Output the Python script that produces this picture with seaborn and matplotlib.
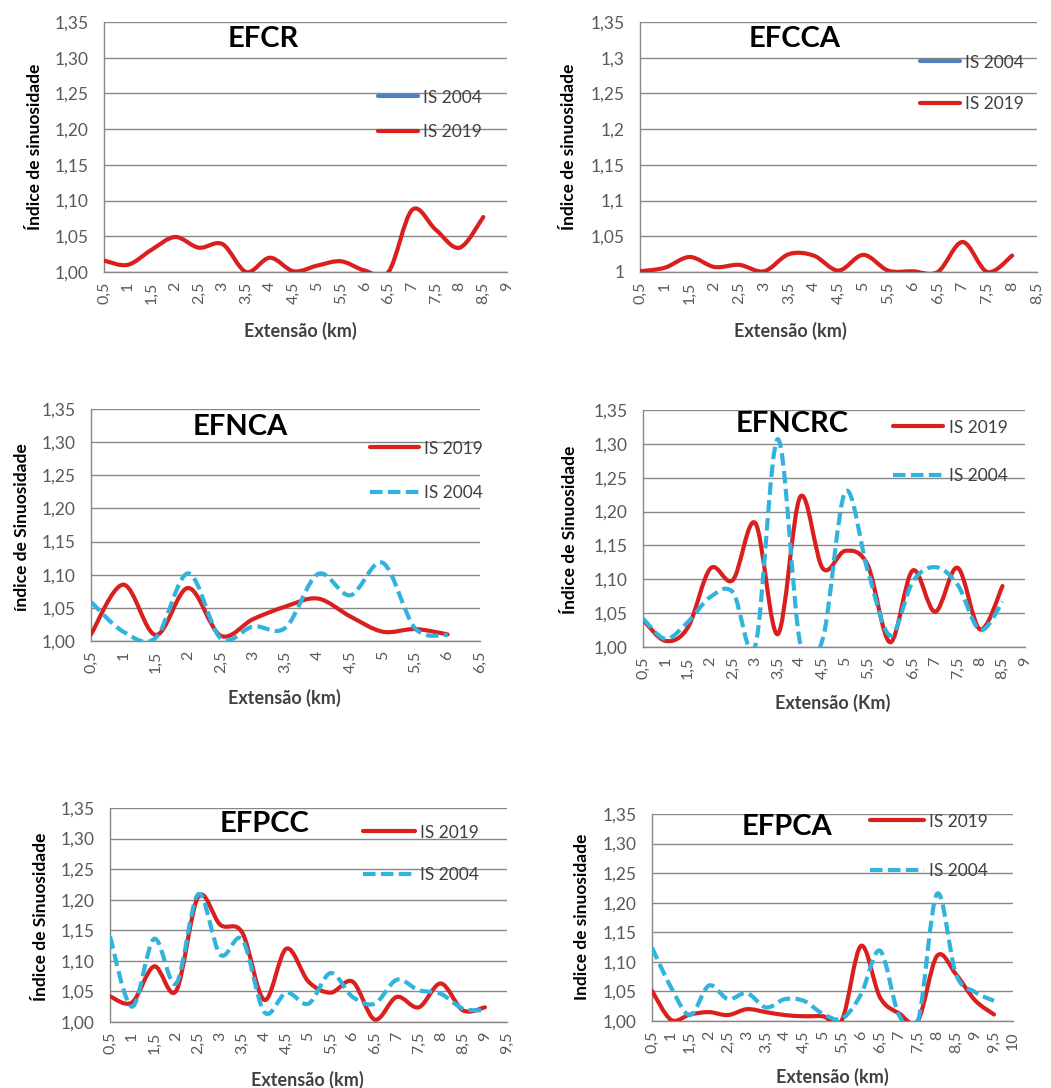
import matplotlib
matplotlib.use('Agg')
import matplotlib.pyplot as plt
from matplotlib.lines import Line2D
from matplotlib.path import Path
from matplotlib.patches import PathPatch
import seaborn as sns
import pandas as pd

# Dados (índice de sinuosidade por km)
km_efcr = [0.5, 1, 1.5, 2, 2.5, 3, 3.5, 4, 4.5, 5, 5.5, 6, 6.5, 7, 7.5, 8, 8.5]
efcr_2019 = [1.016, 1.010, 1.031, 1.049, 1.034, 1.039, 1.000, 1.020, 1.001, 1.009, 1.015, 1.002,
             1.000, 1.087, 1.059, 1.034, 1.077]
xlab_efcr = ['0,5', '1', '1,5', '2', '2,5', '3', '3,5', '4', '4,5', '5', '5,5', '6', '6,5', '7',
             '7,5', '8', '8,5', '9']

km_efcca = [0.5, 1, 1.5, 2, 2.5, 3, 3.5, 4, 4.5, 5, 5.5, 6, 6.5, 7, 7.5, 8]
efcca_2019 = [1.001, 1.006, 1.021, 1.007, 1.010, 1.001, 1.025, 1.023, 1.002, 1.024, 1.002, 1.001,
              1.000, 1.042, 1.000, 1.023]
xlab_efcca = ['0,5', '1', '1,5', '2', '2,5', '3', '3,5', '4', '4,5', '5', '5,5', '6', '6,5', '7',
              '7,5', '8', '8,5']

km_efnca = [0.5, 1, 1.5, 2, 2.5, 3, 3.5, 4, 4.5, 5, 5.5, 6]
efnca_2019 = [1.010, 1.085, 1.009, 1.080, 1.008, 1.033, 1.052, 1.064, 1.037, 1.014, 1.018, 1.010]
efnca_2004 = [1.059, 1.014, 1.005, 1.102, 1.004, 1.022, 1.020, 1.101, 1.069, 1.118, 1.019, 1.009]
xlab_efnca = ['0,5', '1', '1,5', '2', '2,5', '3', '3,5', '4', '4,5', '5', '5,5', '6', '6,5']

km_efncrc = [0.5, 1, 1.5, 2, 2.5, 3, 3.5, 4, 4.5, 5, 5.5, 6, 6.5, 7, 7.5, 8, 8.5]
efncrc_2019 = [1.040, 1.009, 1.029, 1.116, 1.099, 1.183, 1.019, 1.222, 1.116, 1.142, 1.121, 1.007,
               1.113, 1.052, 1.117, 1.026, 1.090]
efncrc_2004 = [1.042, 1.012, 1.037, 1.074, 1.081, 1.002, 1.307, 1.005, 1.012, 1.229, 1.113, 1.017,
               1.096, 1.118, 1.092, 1.025, 1.067]
xlab_efncrc = xlab_efcr

km_efpcc = [0.5, 1, 1.5, 2, 2.5, 3, 3.5, 4, 4.5, 5, 5.5, 6, 6.5, 7, 7.5, 8, 8.5, 9]
efpcc_2019 = [1.042, 1.032, 1.091, 1.051, 1.205, 1.159, 1.146, 1.036, 1.120, 1.066, 1.048, 1.066,
              1.004, 1.041, 1.024, 1.063, 1.019, 1.024]
efpcc_2004 = [1.140, 1.025, 1.136, 1.063, 1.209, 1.110, 1.135, 1.016, 1.048, 1.030, 1.080, 1.041,
              1.030, 1.069, 1.052, 1.046, 1.022, 1.019]
xlab_efpcc = xlab_efcr + ['9,5']

km_efpca = [0.5, 1, 1.5, 2, 2.5, 3, 3.5, 4, 4.5, 5, 5.5, 6, 6.5, 7, 7.5, 8, 8.5, 9, 9.5]
efpca_2019 = [1.051, 1.002, 1.011, 1.015, 1.010, 1.020, 1.015, 1.010, 1.008, 1.008, 1.002, 1.127,
              1.040, 1.013, 1.001, 1.110, 1.079, 1.035, 1.011]
efpca_2004 = [1.124, 1.057, 1.010, 1.060, 1.037, 1.047, 1.023, 1.037, 1.034, 1.012, 1.004, 1.045,
              1.119, 1.010, 1.000, 1.215, 1.079, 1.049, 1.034]
xlab_efpca = xlab_efpcc + ['10']

yticks = [1.00, 1.05, 1.10, 1.15, 1.20, 1.25, 1.30, 1.35]
ylab_fixo = ['1,00', '1,05', '1,10', '1,15', '1,20', '1,25', '1,30', '1,35']
ylab_geral = ['1', '1,05', '1,1', '1,15', '1,2', '1,25', '1,3', '1,35']

W, H = 1051, 1088
RED = '#DA1F1F'
CYAN = '#31B3DD'
BLUE = '#4F81BD'
GRAY = '#888888'
TXT = '#404040'
LW = 3.0
DASH = (3.0, 1.3)

sns.set_theme(style='white')
plt.rcParams['font.family'] = ['Lato', 'DejaVu Sans']


def fx(x):
    return x / W


def fy(y):
    return 1 - y / H


def suavizar(ax):
    # linha suavizada como no Excel: troca cada linha do seaborn por uma curva de Bezier
    for ln in list(ax.get_lines()):
        xy = ln.get_xydata()
        n = len(xy)
        if n < 2:
            continue
        verts = [xy[0]]
        codes = [Path.MOVETO]
        for i in range(n - 1):
            p0 = xy[max(i - 1, 0)]
            p1 = xy[i]
            p2 = xy[i + 1]
            p3 = xy[min(i + 2, n - 1)]
            verts += [p1 + (p2 - p0) / 6, p2 - (p3 - p1) / 6, p2]
            codes += [Path.CURVE4] * 3
        dashed = matplotlib.colors.same_color(ln.get_color(), CYAN)
        patch = PathPatch(Path(verts, codes), fill=False, edgecolor=ln.get_color(),
                          linewidth=ln.get_linewidth(),
                          linestyle=(0, DASH) if dashed else '-',
                          capstyle='round' if not dashed else 'butt', joinstyle='round',
                          zorder=ln.get_zorder())
        ax.add_patch(patch)
        ln.remove()


# layout em pixels: retângulo do gráfico, título, rótulos e legenda
paineis = [
    dict(titulo='EFCR', km=km_efcr, series={'IS 2019': efcr_2019}, legenda=['IS 2004', 'IS 2019'],
         xlab=xlab_efcr, ylab=ylab_fixo, ytit='Índice de sinuosidade', xtit='Extensão (km)',
         rect=(104, 22, 507, 272), tpos=(263, 39), ypos=(35, 147), xpos=(300, 331),
         leg=(378, 97, 133, 2.3)),
    dict(titulo='EFCCA', km=km_efcca, series={'IS 2019': efcca_2019}, legenda=['IS 2004', 'IS 2019'],
         xlab=xlab_efcca, ylab=ylab_geral, ytit='Índice de sinuosidade', xtit='Extensão (km)',
         rect=(640, 22, 1037, 272), tpos=(795, 39), ypos=(569, 147), xpos=(790, 331),
         leg=(920, 62, 105, 2.3)),
    dict(titulo='EFNCA', km=km_efnca, series={'IS 2019': efnca_2019, 'IS 2004': efnca_2004},
         legenda=['IS 2019', 'IS 2004'],
         xlab=xlab_efnca, ylab=ylab_fixo, ytit='índice de Sinuosidade', xtit='Extensão (km)',
         rect=(91, 409, 480, 641), tpos=(240, 427), ypos=(22, 527), xpos=(284, 698),
         leg=(370, 448, 494, 2.8)),
    dict(titulo='EFNCRC', km=km_efncrc, series={'IS 2019': efncrc_2019, 'IS 2004': efncrc_2004},
         legenda=['IS 2019', 'IS 2004'],
         xlab=xlab_efncrc, ylab=ylab_fixo, ytit='Índice de Sinuosidade', xtit='Extensão (Km)',
         rect=(643, 410, 1025, 647), tpos=(792, 424), ypos=(570, 530), xpos=(833, 703),
         leg=(893, 427, 477, 2.9)),
    dict(titulo='EFPCC', km=km_efpcc, series={'IS 2019': efpcc_2019, 'IS 2004': efpcc_2004},
         legenda=['IS 2019', 'IS 2004'],
         xlab=xlab_efpcc, ylab=ylab_fixo, ytit='Índice de Sinuosidade', xtit='Extensão (km)',
         rect=(110, 808, 507, 1022), tpos=(265, 824), ypos=(41, 917), xpos=(307, 1080),
         leg=(363, 832, 876, 3.0)),
    dict(titulo='EFPCA', km=km_efpca, series={'IS 2019': efpca_2019, 'IS 2004': efpca_2004},
         legenda=['IS 2019', 'IS 2004'],
         xlab=xlab_efpca, ylab=ylab_fixo, ytit='Indice de sinuosidade', xtit='Extensão (km)',
         rect=(652, 814, 1013, 1021), tpos=(787, 827), ypos=(582, 917), xpos=(832, 1077),
         leg=(870, 821, 872, 3.1)),
]

cores = {'IS 2019': RED, 'IS 2004': CYAN}
tracos = {'IS 2019': '', 'IS 2004': DASH}

fig = plt.figure(figsize=(W / 100, H / 100), dpi=100)

for p in paineis:
    x0, y0, x1, y1 = p['rect']
    ax = fig.add_axes([fx(x0), fy(y1), (x1 - x0) / W, (y1 - y0) / H])

    # tabela longa para o seaborn
    linhas = []
    for nome, vals in p['series'].items():
        for k, v in zip(p['km'], vals):
            linhas.append({'km': k, 'IS': v, 'serie': nome})
    df = pd.DataFrame(linhas)
    ordem = [s for s in ['IS 2019', 'IS 2004'] if s in p['series']]
    sns.lineplot(data=df, x='km', y='IS', hue='serie', style='serie', hue_order=ordem,
                 style_order=ordem, palette=cores, dashes=tracos, linewidth=LW,
                 legend=False, ax=ax, zorder=3)
    suavizar(ax)

    xt = [0.5 + 0.5 * i for i in range(len(p['xlab']))]
    ax.set_xlim(xt[0], xt[-1])
    ax.set_ylim(1.0, 1.35)
    ax.set_xticks(xt)
    ax.set_xticklabels(p['xlab'], rotation=90, fontsize=11.5, color='#595959')
    ax.set_yticks(yticks)
    ax.set_yticklabels(p['ylab'], fontsize=12.5, color='#595959')
    ax.grid(axis='y', color=GRAY, linewidth=1.0)
    ax.set_axisbelow(True)
    for s in ['top', 'right']:
        ax.spines[s].set_visible(False)
    for s in ['left', 'bottom']:
        ax.spines[s].set_color(GRAY)
        ax.spines[s].set_linewidth(1.0)
    ax.tick_params(axis='x', direction='out', length=3.6, width=1.0, color=GRAY, pad=3.6)
    ax.tick_params(axis='y', direction='out', length=3.6, width=1.0, color=GRAY, pad=7.5)

    ax.set_ylabel(p['ytit'], fontsize=12.5, fontweight='bold', color='black', va='center')
    ax.yaxis.set_label_coords(fx(p['ypos'][0]), fy(p['ypos'][1]), transform=fig.transFigure)
    ax.set_xlabel(p['xtit'], fontsize=13, fontweight='bold', color=TXT, va='center')
    ax.xaxis.set_label_coords(fx(p['xpos'][0]), fy(p['xpos'][1]), transform=fig.transFigure)

    fig.text(fx(p['tpos'][0]), fy(p['tpos'][1]), p['titulo'], fontsize=21, fontweight='bold',
             ha='center', va='center', color='black')

    hx, ly1, ly2, hl = p['leg']
    handles = []
    for nome in p['legenda']:
        if nome == 'IS 2004' and nome not in p['series']:
            handles.append(Line2D([], [], color=BLUE, lw=LW))
        elif nome == 'IS 2004':
            handles.append(Line2D([], [], color=CYAN, lw=LW, dashes=DASH))
        else:
            handles.append(Line2D([], [], color=RED, lw=LW))
    esp = (ly2 - ly1 - 17.0) / 17.4
    ax.legend(handles, p['legenda'], loc='center left',
              bbox_to_anchor=(fx(hx), fy((ly1 + ly2) / 2)), bbox_transform=fig.transFigure,
              frameon=False, borderpad=0, borderaxespad=0, handlelength=hl, handletextpad=0.3,
              labelspacing=esp, fontsize=12.5, labelcolor=TXT)

fig.savefig('out.png', dpi=100)
